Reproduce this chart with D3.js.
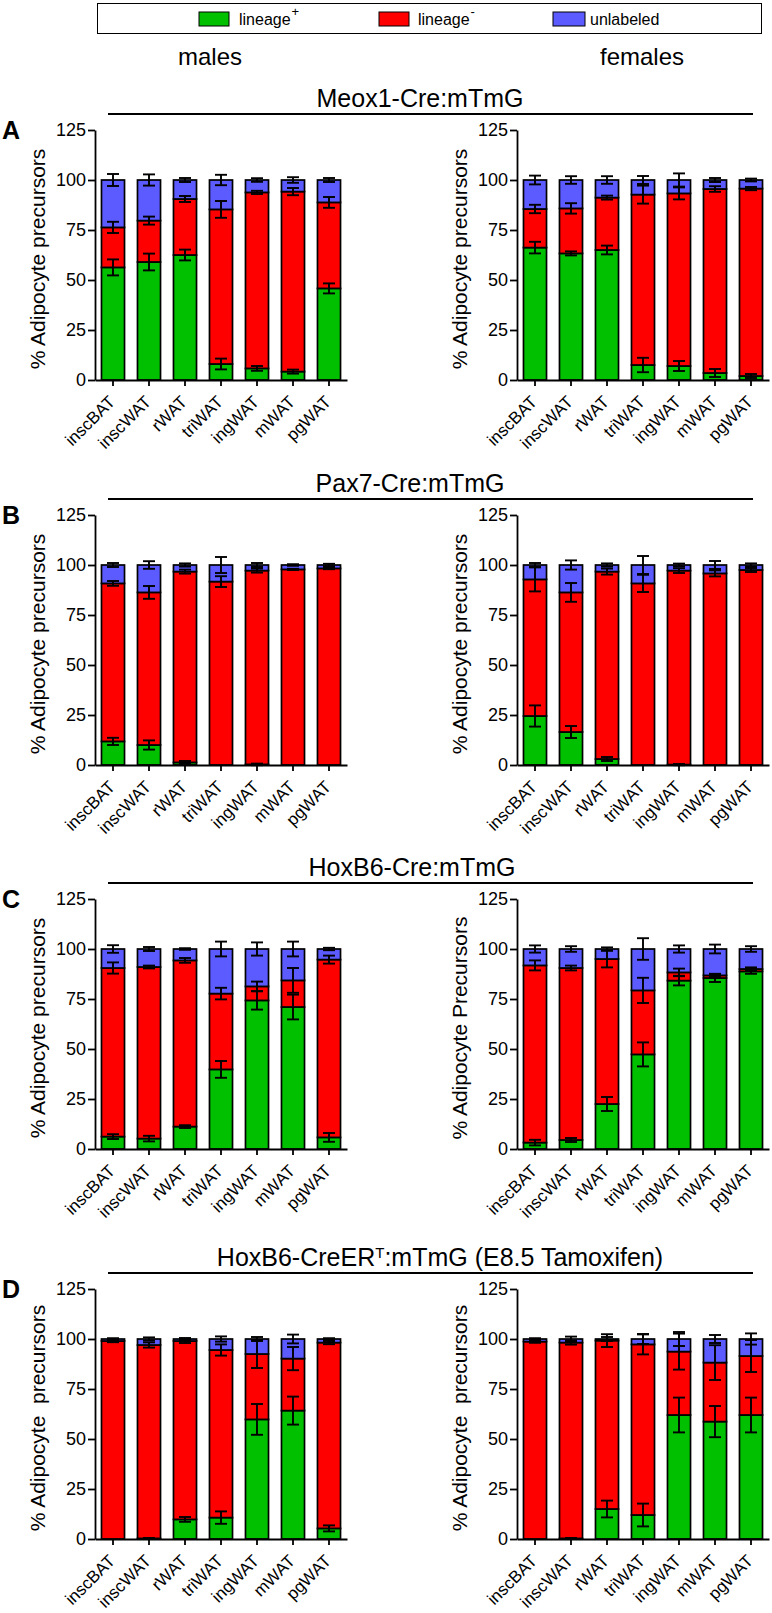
<!DOCTYPE html>
<html>
<head>
<meta charset="utf-8">
<script src="https://cdn.jsdelivr.net/npm/d3@7"></script>
<style>
  html, body { margin: 0; padding: 0; background: #fff; }
  svg { display: block; font-family: Arial, "Liberation Sans", Helvetica, sans-serif; }
</style>
</head>
<body>
<script>
// ---------------- DATA ----------------
const categories = ["inscBAT", "inscWAT", "rWAT", "triWAT", "ingWAT", "mWAT", "pgWAT"];
const yTicks = [0, 25, 50, 75, 100, 125];
const seriesNames = ["lineage", "lineage", "unlabeled"];
const seriesSup = ["+", "-", ""];

// Panel A: Meox1-Cre:mTmG
const aMalePos = [56.3, 59.0, 62.5, 8.0, 5.8, 4.2, 45.8];
const aMaleNeg = [20.0, 20.7, 28.0, 77.3, 88.0, 90.0, 43.0];
const aMaleUnl = [23.7, 20.3, 9.5, 14.7, 6.2, 5.8, 11.2];
const aMalePosErr = [4.0, 4.2, 2.7, 2.7, 1.2, 1.0, 2.5];
const aMaleNegErr = [2.8, 2.0, 1.5, 4.2, 0.8, 1.8, 2.7];
const aMaleUnlErr = [3.0, 2.8, 1.0, 2.6, 0.9, 1.4, 1.0];

const aFemalePos = [66.2, 63.3, 65.0, 7.5, 7.0, 3.5, 2.0];
const aFemaleNeg = [19.3, 22.5, 26.2, 85.2, 86.3, 92.0, 93.7];
const aFemaleUnl = [14.5, 14.2, 8.8, 7.3, 6.7, 4.5, 4.3];
const aFemalePosErr = [2.9, 1.0, 2.2, 3.6, 2.5, 2.0, 1.0];
const aFemaleNegErr = [2.1, 2.6, 1.0, 4.5, 3.0, 1.4, 0.8];
const aFemaleUnlErr = [2.2, 1.9, 1.9, 2.0, 3.3, 1.0, 0.7];

// Panel B: Pax7-Cre:mTmG
const bMalePos = [11.8, 10.0, 1.3, 0, 0.3, 0, 0];
const bMaleNeg = [79.0, 76.3, 95.4, 91.7, 96.9, 97.8, 98.3];
const bMaleUnl = [9.2, 13.7, 3.3, 8.3, 2.8, 2.2, 1.7];
const bMalePosErr = [1.8, 2.3, 0.7, 0, 0.4, 0, 0];
const bMaleNegErr = [1.2, 3.2, 1.0, 2.7, 1.0, 0.3, 0.4];
const bMaleUnlErr = [1.0, 1.9, 0.8, 4.0, 1.0, 0.4, 0.6];

const bFemalePos = [24.5, 16.5, 3.0, 0, 0.2, 0, 0];
const bFemaleNeg = [68.3, 69.8, 93.7, 90.8, 97.0, 95.8, 97.5];
const bFemaleUnl = [7.2, 13.7, 3.3, 9.2, 2.8, 4.2, 2.5];
const bFemalePosErr = [5.3, 3.0, 1.0, 0, 0.3, 0, 0];
const bFemaleNegErr = [6.0, 4.7, 1.5, 4.3, 1.2, 1.5, 1.0];
const bFemaleUnlErr = [1.0, 2.3, 0.8, 4.5, 0.7, 2.0, 0.8];

// Panel C: HoxB6-Cre:mTmG
const cMalePos = [6.2, 5.2, 11.2, 39.8, 74.3, 71.0, 5.8];
const cMaleNeg = [84.3, 85.8, 83.1, 37.9, 7.0, 13.3, 88.9];
const cMaleUnl = [9.5, 9.0, 5.7, 22.3, 18.7, 15.7, 5.3];
const cMalePosErr = [1.2, 1.4, 0.7, 4.2, 4.6, 6.2, 2.2];
const cMaleNegErr = [2.8, 0.7, 1.2, 2.9, 2.4, 6.2, 2.0];
const cMaleUnlErr = [1.9, 1.0, 0.4, 3.7, 3.3, 3.7, 0.6];

const cFemalePos = [3.2, 4.5, 22.5, 47.3, 84.2, 85.5, 88.8];
const cFemaleNeg = [88.6, 86.0, 72.5, 32.0, 4.1, 1.3, 1.2];
const cFemaleUnl = [8.2, 9.5, 5.0, 20.7, 11.7, 13.2, 10.0];
const cFemalePosErr = [1.4, 1.0, 3.5, 6.0, 2.4, 2.0, 1.2];
const cFemaleNegErr = [2.5, 1.2, 4.2, 6.3, 1.9, 0.8, 0.8];
const cFemaleUnlErr = [1.8, 1.4, 0.8, 5.4, 1.8, 2.2, 1.4];

// Panel D: HoxB6-CreERT:mTmG (E8.5 Tamoxifen)
const dMalePos = [0, 0.3, 9.8, 10.7, 59.8, 64.2, 5.3];
const dMaleNeg = [99.0, 96.7, 89.2, 83.8, 32.7, 26.0, 92.9];
const dMaleUnl = [1.0, 3.0, 1.0, 5.5, 7.5, 9.8, 1.8];
const dMalePosErr = [0, 0.2, 1.2, 3.1, 7.7, 7.0, 1.5];
const dMaleNegErr = [0.6, 1.3, 1.0, 2.8, 7.0, 5.8, 0.8];
const dMaleUnlErr = [0.4, 0.8, 0.5, 1.3, 1.0, 2.2, 0.4];

const dFemalePos = [0, 0.3, 15.0, 12.0, 62.0, 58.7, 62.0];
const dFemaleNeg = [98.7, 97.9, 84.2, 85.3, 31.7, 29.5, 29.5];
const dFemaleUnl = [1.3, 1.8, 0.8, 2.7, 6.3, 11.8, 8.5];
const dFemalePosErr = [0, 0.2, 4.2, 5.7, 8.7, 7.8, 8.7];
const dFemaleNegErr = [0.6, 1.0, 3.2, 5.0, 9.0, 8.7, 8.0];
const dFemaleUnlErr = [0.4, 1.2, 1.0, 2.5, 3.5, 2.0, 2.8];

// ---------------- STYLE / LAYOUT ----------------
const colors = ["#00C000", "#FF0000", "#5B5BFF"];
const keys = ["pos", "neg", "unl"];
const W = 772, H = 1613;
const svg = d3.select("body").append("svg").attr("width", W).attr("height", H);

// Legend
const legend = svg.append("g");
legend.append("rect").attr("x", 97.5).attr("y", 3.5).attr("width", 664).attr("height", 30)
  .attr("fill", "#fff").attr("stroke", "#000").attr("stroke-width", 1);
const legendItems = [
  { sx: 199, tx: 239 },
  { sx: 379, tx: 418 },
  { sx: 553, tx: 590 }
];
legendItems.forEach((it, i) => {
  legend.append("rect").attr("x", it.sx).attr("y", 12).attr("width", i === 2 ? 32 : 30).attr("height", 14)
    .attr("fill", colors[i]).attr("stroke", "#000").attr("stroke-width", 1);
  const t = legend.append("text").attr("x", it.tx).attr("y", 25).attr("font-size", 16).attr("fill", "#000");
  t.append("tspan").text(seriesNames[i]);
  if (seriesSup[i]) t.append("tspan").attr("dx", 1).attr("dy", -9).attr("font-size", 13).text(seriesSup[i]);
});

svg.append("text").attr("x", 210).attr("y", 65).attr("text-anchor", "middle").attr("font-size", 24).text("males");
svg.append("text").attr("x", 642).attr("y", 65).attr("text-anchor", "middle").attr("font-size", 24).text("females");

const panels = [
  { letter: "A", title: ["Meox1-Cre:mTmG"], tcx: 420, top: 130,
    charts: [
      { d: [aMalePos, aMaleNeg, aMaleUnl], e: [aMalePosErr, aMaleNegErr, aMaleUnlErr], label: "% Adipocyte precursors" },
      { d: [aFemalePos, aFemaleNeg, aFemaleUnl], e: [aFemalePosErr, aFemaleNegErr, aFemaleUnlErr], label: "% Adipocyte precursors" }
    ] },
  { letter: "B", title: ["Pax7-Cre:mTmG"], tcx: 410, top: 515,
    charts: [
      { d: [bMalePos, bMaleNeg, bMaleUnl], e: [bMalePosErr, bMaleNegErr, bMaleUnlErr], label: "% Adipocyte precursors" },
      { d: [bFemalePos, bFemaleNeg, bFemaleUnl], e: [bFemalePosErr, bFemaleNegErr, bFemaleUnlErr], label: "% Adipocyte precursors" }
    ] },
  { letter: "C", title: ["HoxB6-Cre:mTmG"], tcx: 412, top: 899,
    charts: [
      { d: [cMalePos, cMaleNeg, cMaleUnl], e: [cMalePosErr, cMaleNegErr, cMaleUnlErr], label: "% Adipocyte precursors" },
      { d: [cFemalePos, cFemaleNeg, cFemaleUnl], e: [cFemalePosErr, cFemaleNegErr, cFemaleUnlErr], label: "% Adipocyte Precursors" }
    ] },
  { letter: "D", title: ["HoxB6-CreER", "T", ":mTmG (E8.5 Tamoxifen)"], tcx: 440, top: 1289,
    charts: [
      { d: [dMalePos, dMaleNeg, dMaleUnl], e: [dMalePosErr, dMaleNegErr, dMaleUnlErr], label: "% Adipocyte  precursors" },
      { d: [dFemalePos, dFemaleNeg, dFemaleUnl], e: [dFemalePosErr, dFemaleNegErr, dFemaleUnlErr], label: "% Adipocyte  precursors" }
    ] }
];
const chartLefts = [95, 517];
const plotH = 250, plotW = 252;

panels.forEach(p => {
  // panel title + rule
  const t = svg.append("text").attr("x", p.tcx).attr("y", p.top - 23).attr("text-anchor", "middle").attr("font-size", 25);
  if (p.title.length === 1) t.text(p.title[0]);
  else {
    t.append("tspan").text(p.title[0]);
    t.append("tspan").attr("dy", -8).attr("font-size", 15).text(p.title[1]);
    t.append("tspan").attr("dy", 8).text(p.title[2]);
  }
  svg.append("line").attr("x1", 108).attr("x2", 753).attr("y1", p.top - 16).attr("y2", p.top - 16)
    .attr("stroke", "#000").attr("stroke-width", 2);
  svg.append("text").attr("x", 2).attr("y", p.top + 9).attr("font-size", 25).attr("font-weight", "bold").text(p.letter);

  p.charts.forEach((c, ci) => {
    const left = chartLefts[ci];
    const bottom = p.top + plotH;
    const x = d3.scaleBand().domain(categories).range([left, left + plotW]).paddingInner(0.36).paddingOuter(0.18);
    const y = d3.scaleLinear().domain([0, 125]).range([bottom, p.top]);
    const table = categories.map((cat, i) => ({ cat, pos: c.d[0][i], neg: c.d[1][i], unl: c.d[2][i] }));
    const stacked = d3.stack().keys(keys)(table);
    const g = svg.append("g");

    stacked.forEach((s, si) => {
      g.append("g").selectAll("rect").data(s).join("rect")
        .attr("x", d => x(d.data.cat))
        .attr("y", d => y(d[1]))
        .attr("width", x.bandwidth())
        .attr("height", d => Math.max(0, y(d[0]) - y(d[1])))
        .attr("fill", colors[si])
        .attr("stroke", "#000").attr("stroke-width", 1.7);
    });
    // error bars
    stacked.forEach((s, si) => {
      const errs = c.e[si];
      const eg = g.append("g").attr("stroke", "#000").attr("stroke-width", 1.9).attr("fill", "none");
      s.forEach((d, i) => {
        const err = errs[i];
        if (!err) return;
        const cx = x(d.data.cat) + x.bandwidth() / 2;
        const v = d[1];
        eg.append("line").attr("x1", cx).attr("x2", cx).attr("y1", y(v - err)).attr("y2", y(v + err));
        eg.append("line").attr("x1", cx - 6).attr("x2", cx + 6).attr("y1", y(v - err)).attr("y2", y(v - err));
        eg.append("line").attr("x1", cx - 6).attr("x2", cx + 6).attr("y1", y(v + err)).attr("y2", y(v + err));
      });
    });

    // axes
    const ya = g.append("g").attr("transform", `translate(${left},0)`)
      .call(d3.axisLeft(y).tickValues(yTicks).tickSize(7).tickSizeOuter(0).tickPadding(2));
    ya.selectAll("text").attr("font-size", 18).attr("font-family", null).attr("fill", "#000");
    ya.selectAll("line, path").attr("stroke", "#000").attr("stroke-width", 1.8);

    const xa = g.append("g").attr("transform", `translate(0,${bottom})`)
      .call(d3.axisBottom(x).tickSize(6).tickSizeOuter(0));
    xa.selectAll("line, path").attr("stroke", "#000").attr("stroke-width", 1.8);
    xa.selectAll("text")
      .attr("font-size", 17).attr("font-family", null).attr("fill", "#000")
      .attr("text-anchor", "end")
      .attr("dy", null)
      .attr("y", 0)
      .attr("transform", "translate(3,23) rotate(-45)");

    // y title
    g.append("text")
      .attr("transform", `translate(${left - 50},${p.top + plotH / 2 + 4}) rotate(-90)`)
      .attr("text-anchor", "middle").attr("font-size", 21)
      .style("white-space", "pre")
      .text(c.label);
  });
});
</script>
</body>
</html>
